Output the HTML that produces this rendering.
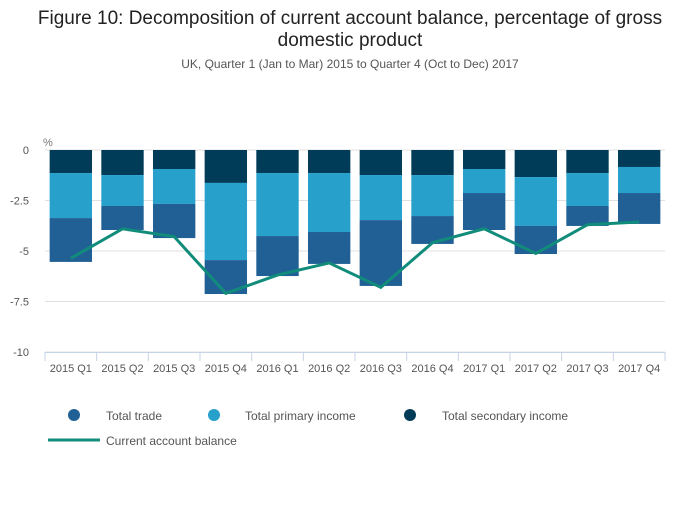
<!DOCTYPE html>
<html><head><meta charset="utf-8"><style>
body{margin:0;background:#fff;font-family:"Liberation Sans",sans-serif;}
svg text{font-family:"Liberation Sans",sans-serif;}
</style></head><body>
<svg id="chart" width="700" height="502">
<text x="350" y="24" text-anchor="middle" font-size="19" fill="#222">Figure 10: Decomposition of current account balance, percentage of gross</text>
<text x="350" y="46" text-anchor="middle" font-size="19" fill="#222">domestic product</text>
<text x="350" y="68" text-anchor="middle" font-size="12" fill="#555">UK, Quarter 1 (Jan to Mar) 2015 to Quarter 4 (Oct to Dec) 2017</text>
<text x="43" y="146" font-size="11" fill="#777">%</text>
<g id="grid"></g><g id="bars"></g><g id="line"></g><g id="xaxis"></g>
<g>
<circle cx="74" cy="415" r="6" fill="#206095"/>
<text x="106" y="420" font-size="12" fill="#555">Total trade</text>
<circle cx="214" cy="415" r="6" fill="#27a0cc"/>
<text x="245" y="420" font-size="12" fill="#555">Total primary income</text>
<circle cx="410" cy="415" r="6" fill="#003c57"/>
<text x="442" y="420" font-size="12" fill="#555">Total secondary income</text>
<line x1="48" y1="440" x2="100" y2="440" stroke="#118c7b" stroke-width="3"/>
<text x="106" y="445" font-size="12" fill="#555">Current account balance</text>
</g>
</svg>
<script>
const categories=["2015 Q1","2015 Q2","2015 Q3","2015 Q4","2016 Q1","2016 Q2","2016 Q3","2016 Q4","2017 Q1","2017 Q2","2017 Q3","2017 Q4"];
const secondary=[-1.14,-1.24,-0.94,-1.63,-1.14,-1.14,-1.24,-1.24,-0.94,-1.34,-1.14,-0.84];
const primary=[-2.23,-1.53,-1.73,-3.82,-3.12,-2.92,-2.23,-2.03,-1.19,-2.42,-1.63,-1.29];
const trade=[-2.17,-1.19,-1.69,-1.68,-1.98,-1.58,-3.26,-1.38,-1.83,-1.39,-0.99,-1.53];
const balance=[-5.36,-3.9,-4.29,-7.1,-6.19,-5.59,-6.8,-4.59,-3.9,-5.12,-3.7,-3.56];
const yTicks=[0,-2.5,-5,-7.5,-10];
const yTickLabels=["0","-2.5","-5","-7.5","-10"];
const NS="http://www.w3.org/2000/svg";
const X0=45,X1=665,Y0=150,YS=20.2;
const bw=(X1-X0)/categories.length;
const y=v=>Y0-v*YS;
const xc=i=>X0+bw*(i+0.5);
function mk(t,a,p){const e=document.createElementNS(NS,t);for(const k in a)e.setAttribute(k,a[k]);p.appendChild(e);return e;}
const grid=document.getElementById('grid');
yTicks.forEach((v,i)=>{
 const l=mk('line',{x1:X0,x2:X1,y1:y(v),y2:y(v),stroke:'#e0e0e0','stroke-width':1},grid);
 
 
 const t=mk('text',{x:X0-16,y:y(v)+4,'text-anchor':'end','font-size':11,fill:'#555'},grid);
 t.textContent=yTickLabels[i];
 
 
});
const bars=document.getElementById('bars');
const series=[[secondary,'#003c57','secondary'],[primary,'#27a0cc','primary'],[trade,'#206095','trade']];
categories.forEach((c,i)=>{
 let base=0;
 series.forEach(([arr,col,nm])=>{
  const top=base,bot=base+arr[i];
  const r=mk('rect',{x:xc(i)-bw*0.41,width:bw*0.82,y:y(top),height:y(bot)-y(top),fill:col},bars);
  
  
  base=bot;
 });
});
const pl=mk('polyline',{points:balance.map((v,i)=>xc(i)+','+y(v)).join(' '),fill:'none',stroke:'#118c7b','stroke-width':3},document.getElementById('line'));


const xa=document.getElementById('xaxis');
const al=mk('line',{x1:X0,x2:X1,y1:352.5,y2:352.5,stroke:'#c5d3e6','stroke-width':1},xa);


for(let i=0;i<=categories.length;i++){
 const t=mk('line',{x1:X0+bw*i,x2:X0+bw*i,y1:352,y2:361,stroke:'#c5d3e6'},xa);
 
 
}
categories.forEach((c,i)=>{
 const t=mk('text',{x:xc(i),y:372,'text-anchor':'middle','font-size':11,fill:'#555'},xa);
 t.textContent=c;
 
 
});
</script>
</body></html>
